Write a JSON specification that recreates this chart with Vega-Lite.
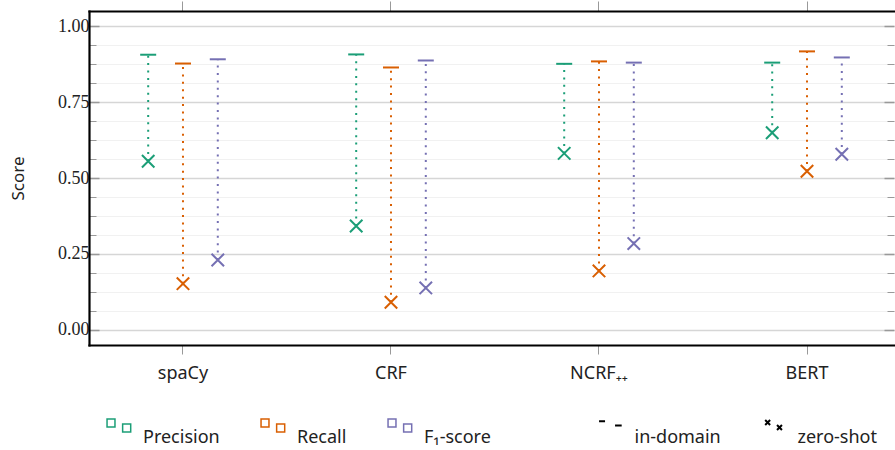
{
  "$schema": "https://vega.github.io/schema/vega-lite/v6.json",
  "width": 805,
  "height": 334,
  "autosize": {"type": "none"},
  "padding": {"left": 89, "top": 11, "right": 1, "bottom": 105},
  "config": {"view": {"stroke": null}, "font": "Noto Sans"},
  "data": {
    "values": [
      {"model": "spaCy", "metric": "Precision", "in-domain": 0.906, "zero-shot": 0.555},
      {"model": "spaCy", "metric": "Recall", "in-domain": 0.877, "zero-shot": 0.152},
      {"model": "spaCy", "metric": "F₁-score", "in-domain": 0.891, "zero-shot": 0.230},
      {"model": "CRF", "metric": "Precision", "in-domain": 0.907, "zero-shot": 0.342},
      {"model": "CRF", "metric": "Recall", "in-domain": 0.864, "zero-shot": 0.091},
      {"model": "CRF", "metric": "F₁-score", "in-domain": 0.887, "zero-shot": 0.138},
      {"model": "NCRF₊₊", "metric": "Precision", "in-domain": 0.876, "zero-shot": 0.581},
      {"model": "NCRF₊₊", "metric": "Recall", "in-domain": 0.884, "zero-shot": 0.194},
      {"model": "NCRF₊₊", "metric": "F₁-score", "in-domain": 0.880, "zero-shot": 0.284},
      {"model": "BERT", "metric": "Precision", "in-domain": 0.880, "zero-shot": 0.649},
      {"model": "BERT", "metric": "Recall", "in-domain": 0.917, "zero-shot": 0.522},
      {"model": "BERT", "metric": "F₁-score", "in-domain": 0.897, "zero-shot": 0.578}
    ]
  },
  "layer": [
    {
      "mark": {"type": "rule", "strokeDash": [2, 5.4], "strokeWidth": 2},
      "encoding": {
        "x": {
          "field": "model", "type": "nominal", "sort": ["spaCy", "CRF", "NCRF₊₊", "BERT"],
          "scale": {"type": "band", "paddingInner": 0.1635, "paddingOuter": 0.0168, "align": 1},
          "axis": {
            "orient": "bottom", "title": null, "labelAngle": 0,
            "labelFont": "Noto Sans", "labelFontSize": 18, "labelColor": "#222",
            "labelPadding": 10, "tickSize": 9, "tickColor": "#999", "tickWidth": 1,
            "domain": true, "domainColor": "black", "domainWidth": 2.2, "domainCap": "square", "grid": false
          }
        },
        "xOffset": {
          "field": "metric", "type": "nominal", "sort": ["Precision", "Recall", "F₁-score"],
          "scale": {"paddingInner": 0, "paddingOuter": 1.21875}
        },
        "y": {
          "field": "zero-shot", "type": "quantitative",
          "scale": {"domain": [-0.05, 1.05], "nice": false, "zero": false},
          "title": "Score",
          "axis": {
            "orient": "left",
            "values": [0, 0.0625, 0.125, 0.1875, 0.25, 0.3125, 0.375, 0.4375, 0.5, 0.5625, 0.625, 0.6875, 0.75, 0.8125, 0.875, 0.9375, 1],
            "labelExpr": "datum.value % 0.25 === 0 ? format(datum.value, '.2f') : ''",
            "labelFont": "Liberation Serif", "labelFontSize": 18, "labelColor": "#222",
            "labelPadding": 10, "labelOverlap": false,
            "tickSize": {"condition": {"test": "datum.value % 0.25 === 0", "value": -10}, "value": -7},
            "tickColor": "#999",
            "tickWidth": {"condition": {"test": "datum.value % 0.25 === 0", "value": 1.5}, "value": 1},
            "grid": true,
            "gridColor": {"condition": {"test": "datum.value % 0.25 === 0", "value": "#d6d6d6"}, "value": "#f1f1f1"},
            "gridWidth": {"condition": {"test": "datum.value % 0.25 === 0", "value": 1.5}, "value": 1.2},
            "domain": true, "domainColor": "black", "domainWidth": 2.2, "domainCap": "square",
            "titleFont": "Noto Sans", "titleFontSize": 17, "titleFontWeight": "normal", "titleColor": "#222", "titlePadding": 30
          }
        },
        "y2": {"field": "in-domain"},
        "color": {
          "field": "metric", "type": "nominal", "sort": ["Precision", "Recall", "F₁-score"],
          "scale": {"domain": ["Precision", "Recall", "F₁-score"], "range": ["#1b9e77", "#d95f02", "#7570b3"]}
        }
      }
    },
    {
      "transform": [{"fold": ["in-domain", "zero-shot"], "as": ["setting", "score"]}],
      "mark": {"type": "point", "filled": false, "strokeWidth": 2, "size": 256, "opacity": 1},
      "encoding": {
        "x": {
          "field": "model", "type": "nominal", "sort": ["spaCy", "CRF", "NCRF₊₊", "BERT"],
          "scale": {"type": "band", "paddingInner": 0.1635, "paddingOuter": 0.0168, "align": 1},
          "axis": {
            "orient": "top", "title": null, "labels": false,
            "tickSize": 10, "tickColor": "#999", "tickWidth": 1,
            "domain": true, "domainColor": "black", "domainWidth": 2.2, "domainCap": "square", "grid": false
          }
        },
        "xOffset": {
          "field": "metric", "type": "nominal", "sort": ["Precision", "Recall", "F₁-score"],
          "scale": {"paddingInner": 0, "paddingOuter": 1.21875}
        },
        "y": {
          "field": "score", "type": "quantitative",
          "scale": {"domain": [-0.05, 1.05], "nice": false, "zero": false},
          "axis": {
            "orient": "right", "title": null, "labels": false, "grid": false, "domain": false,
            "values": [0, 0.0625, 0.125, 0.1875, 0.25, 0.3125, 0.375, 0.4375, 0.5, 0.5625, 0.625, 0.6875, 0.75, 0.8125, 0.875, 0.9375, 1],
            "tickSize": {"condition": {"test": "datum.value % 0.25 === 0", "value": -10}, "value": -7},
            "tickColor": "#999",
            "tickWidth": {"condition": {"test": "datum.value % 0.25 === 0", "value": 1.5}, "value": 1}
          }
        },
        "color": {
          "field": "metric", "type": "nominal", "sort": ["Precision", "Recall", "F₁-score"],
          "scale": {"domain": ["Precision", "Recall", "F₁-score"], "range": ["#1b9e77", "#d95f02", "#7570b3"]},
          "legend": {
            "orient": "none", "legendX": 16, "legendY": 413, "direction": "horizontal",
            "title": null, "padding": 0, "symbolSize": 676, "symbolStrokeWidth": 1.5,
            "symbolType": "M-0.92,-1.46H-0.31V-0.84H-0.92Z M0.28,-1.08H0.9V-0.46H0.28Z",
            "labelFont": "Noto Sans", "labelFontSize": 18, "labelColor": "#222", "labelOffset": 10,
            "columnPadding": 38,
            "encode": {
              "symbols": {
                "fill": {"condition": [{"test": "datum.value === 'Precision'", "value": "#1b9e77"}, {"test": "datum.value === 'Recall'", "value": "#d95f02"}], "value": "#7570b3"},
                "fillOpacity": {"value": 0.2},
                "strokeWidth": {"value": 1.6}
              }
            }
          }
        },
        "shape": {
          "field": "setting", "type": "nominal",
          "scale": {"domain": ["in-domain", "zero-shot"], "range": ["M-1,0H1", "M-0.78,-0.78L0.78,0.78M-0.78,0.78L0.78,-0.78"]},
          "legend": null
        }
      }
    },
    {
      "transform": [{"fold": ["in-domain", "zero-shot"], "as": ["setting", "score"]}],
      "mark": {"type": "point", "filled": false, "strokeWidth": 2, "size": 676, "opacity": 0},
      "encoding": {
        "x": {
          "field": "model", "type": "nominal", "sort": ["spaCy", "CRF", "NCRF₊₊", "BERT"],
          "scale": {"type": "band", "paddingInner": 0.1635, "paddingOuter": 0.0168, "align": 1},
          "axis": null
        },
        "xOffset": {
          "field": "metric", "type": "nominal", "sort": ["Precision", "Recall", "F₁-score"],
          "scale": {"paddingInner": 0, "paddingOuter": 1.21875}
        },
        "y": {
          "field": "score", "type": "quantitative",
          "scale": {"domain": [-0.05, 1.05], "nice": false, "zero": false},
          "axis": null
        },
        "shape": {
          "field": "setting", "type": "nominal",
          "scale": {"domain": ["in-domain", "zero-shot"], "range": ["M-0.88,-1.29H-0.42M0.35,-0.96H0.86", "M-0.64,-1.38L-0.26,-1.0M-0.64,-1.0L-0.26,-1.38M0.27,-1.0L0.65,-0.62M0.27,-0.62L0.65,-1.0"]},
          "legend": {
            "orient": "none", "legendX": 507.5, "legendY": 413, "direction": "horizontal",
            "title": null, "padding": 0, "symbolSize": 676, "symbolStrokeWidth": 2, "symbolStrokeColor": "black",
            "symbolOpacity": 1,
            "labelFont": "Noto Sans", "labelFontSize": 18, "labelColor": "#222", "labelOffset": 10,
            "columnPadding": 38
          }
        }
      }
    }
  ],
  "resolve": {"axis": {"x": "independent", "y": "independent"}, "scale": {"shape": "independent"}}
}
